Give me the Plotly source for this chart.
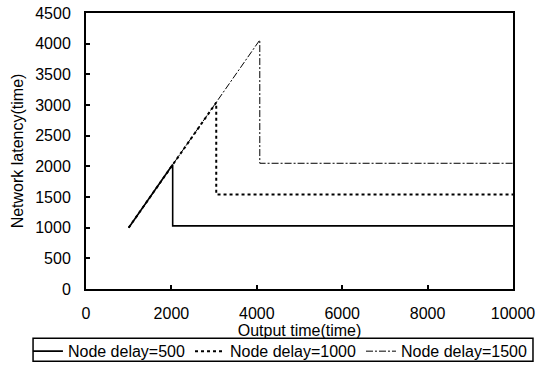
import plotly.graph_objects as go

# Data
x_500 = [1000, 2030, 2030, 10000]
y_500 = [1000, 2030, 1030, 1030]
x_1000 = [1000, 3050, 3050, 10000]
y_1000 = [1000, 3040, 1540, 1540]
x_1500 = [1000, 4070, 4070, 10000]
y_1500 = [1000, 4060, 2050, 2050]

names = ["Node delay=500", "Node delay=1000", "Node delay=1500"]
x_ticks = [0, 2000, 4000, 6000, 8000, 10000]
y_ticks = [0, 500, 1000, 1500, 2000, 2500, 3000, 3500, 4000, 4500]

FONT = "Arial, 'Liberation Sans', sans-serif"

fig = go.Figure()
fig.add_trace(go.Scatter(x=x_1500, y=y_1500, mode="lines", name=names[2], legendrank=3,
                         line=dict(color="black", width=1, dash="7px,2px,2px,2px")))
fig.add_trace(go.Scatter(x=x_1000, y=y_1000, mode="lines", name=names[1], legendrank=2,
                         line=dict(color="black", width=2, dash="3px,3px")))
fig.add_trace(go.Scatter(x=x_500, y=y_500, mode="lines", name=names[0], legendrank=1,
                         line=dict(color="black", width=1.6)))

fig.update_layout(
    width=548, height=377,
    margin=dict(l=86, r=35, t=12.5, b=87.5, autoexpand=False),
    paper_bgcolor="white", plot_bgcolor="white",
    font=dict(family=FONT, size=16, color="black"),
    showlegend=True,
    legend=dict(orientation="h", x=-0.136, xanchor="left", y=-0.164, yanchor="top",
                borderwidth=0, bgcolor="rgba(0,0,0,0)", itemwidth=30,
                font=dict(family=FONT, size=16, color="black"),
                tracegroupgap=0, traceorder="normal"),
    shapes=[dict(type="rect", xref="paper", yref="paper",
                 x0=-0.124, x1=1.0468, y0=-0.1787, y1=-0.2617,
                 line=dict(color="black", width=1.5), fillcolor="rgba(0,0,0,0)",
                 layer="above")],
)
fig.update_xaxes(range=[0, 10000], tickvals=x_ticks, ticktext=[str(v) for v in x_ticks],
                 ticks="inside", ticklen=4, tickwidth=1.5, tickcolor="black",
                 showline=True, linecolor="black", linewidth=2, mirror=True,
                 showgrid=False, zeroline=False,
                 title=dict(text="Output time(time)", standoff=0, font=dict(size=16)),
                 ticklabelstandoff=9)
fig.update_yaxes(range=[0, 4500], tickvals=y_ticks, ticktext=[str(v) for v in y_ticks],
                 ticks="inside", ticklen=4, tickwidth=1.5, tickcolor="black",
                 showline=True, linecolor="black", linewidth=2, mirror=True,
                 showgrid=False, zeroline=False,
                 title=dict(text="Network latency(time)", standoff=8, font=dict(size=16)),
                 ticklabelstandoff=10)

fig.write_html("out.html")
